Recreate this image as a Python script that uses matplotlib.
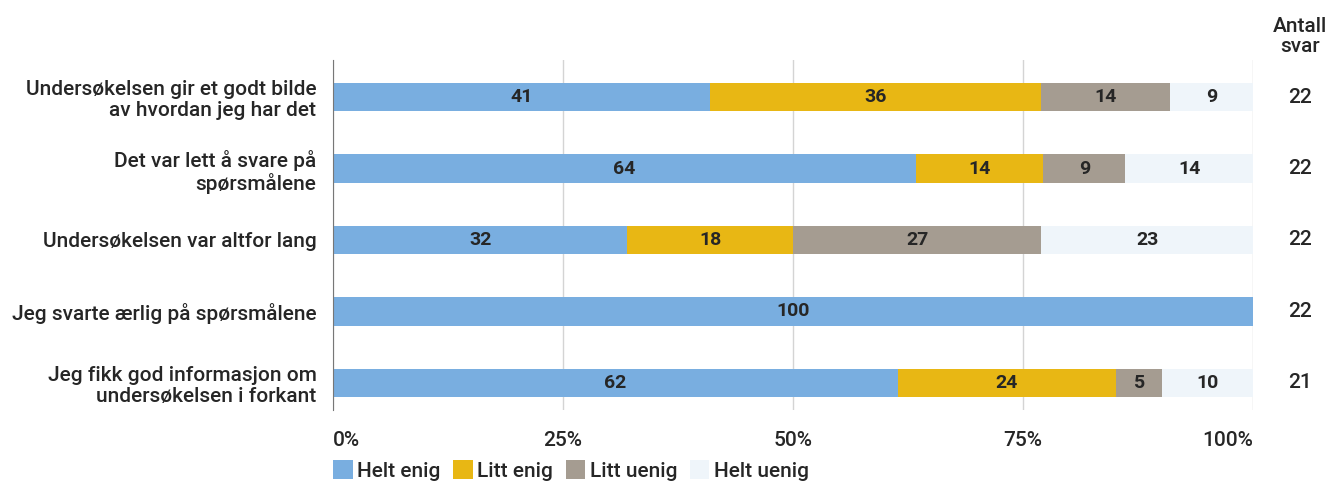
import matplotlib.pyplot as plt
import numpy as np
from matplotlib.patches import Patch

plt.rcParams['font.family'] = ['Roboto', 'DejaVu Sans']

questions = ['Undersøkelsen gir et godt bilde\nav hvordan jeg har det',
             'Det var lett å svare på\nspørsmålene',
             'Undersøkelsen var altfor lang',
             'Jeg svarte ærlig på spørsmålene',
             'Jeg fikk god informasjon om\nundersøkelsen i forkant']
categories = ['Helt enig', 'Litt enig', 'Litt uenig', 'Helt uenig']
helt_enig = [41, 64, 32, 100, 62]
litt_enig = [36, 14, 18, 0, 24]
litt_uenig = [14, 9, 27, 0, 5]
helt_uenig = [9, 14, 23, 0, 10]
antall = [22, 22, 22, 22, 21]
colors = ['#79aee0', '#e8b714', '#a59c91', '#eff5fa']

series = np.array([helt_enig, litt_enig, litt_uenig, helt_uenig], dtype=float)
shares = series / series.sum(axis=0) * 100

fig = plt.figure(figsize=(13.28, 4.84), dpi=100)
ax = fig.add_axes([0.2508, 0.153, 0.6927, 0.723])

txt = '#262626'
fs = 15

y = np.arange(len(questions))
left = np.zeros(len(questions))
for i in range(4):
    ax.barh(y, shares[i], left=left, height=0.4, color=colors[i], zorder=2)
    for j in range(len(questions)):
        if series[i, j] > 0:
            ax.text(left[j] + shares[i, j] / 2, y[j], '%d' % series[i, j],
                    ha='center', va='center', fontsize=14, fontweight='semibold',
                    color=txt, zorder=3)
    left += shares[i]

ax.set_xlim(0, 100)
ax.set_ylim(4.38, -0.52)
ax.set_yticks(y)
ax.set_yticklabels(questions, fontsize=fs, color=txt, linespacing=1.15, fontweight='medium')
ax.set_xticks([0, 25, 50, 75, 100])
ax.set_xticklabels(['0%', '25%', '50%', '75%', '100%'], fontsize=fs, color=txt,
                   fontweight='medium')
xt = ax.get_xticklabels()
xt[0].set_ha('left')
xt[-1].set_ha('right')
ax.tick_params(axis='both', length=0)
ax.tick_params(axis='y', pad=12)
ax.tick_params(axis='x', pad=15)
ax.grid(axis='x', color='#d4d4d4', linewidth=1, zorder=0)
for s in ['top', 'right', 'bottom']:
    ax.spines[s].set_visible(False)
ax.spines['left'].set_color('#777777')
ax.spines['left'].set_zorder(4)

for j in range(len(questions)):
    fig.text(0.979, ax.transData.transform((0, y[j]))[1] / fig.bbox.height, str(antall[j]),
             ha='center', va='center', fontsize=fs, color=txt, fontweight='medium')
fig.text(0.979, 0.925, 'Antall\nsvar', ha='center', va='center', fontsize=fs,
         color=txt, linespacing=1.1, fontweight='medium')

handles = [Patch(facecolor=c, edgecolor='none') for c in colors]
fig.legend(handles, categories, loc='lower left', bbox_to_anchor=(0.237, -0.032), ncol=4,
           frameon=False, handlelength=0.95, handleheight=1.0,
           handletextpad=0.2, columnspacing=0.6, labelcolor=txt,
           prop={'weight': 'medium', 'size': fs})

fig.savefig('out.png', dpi=100)
